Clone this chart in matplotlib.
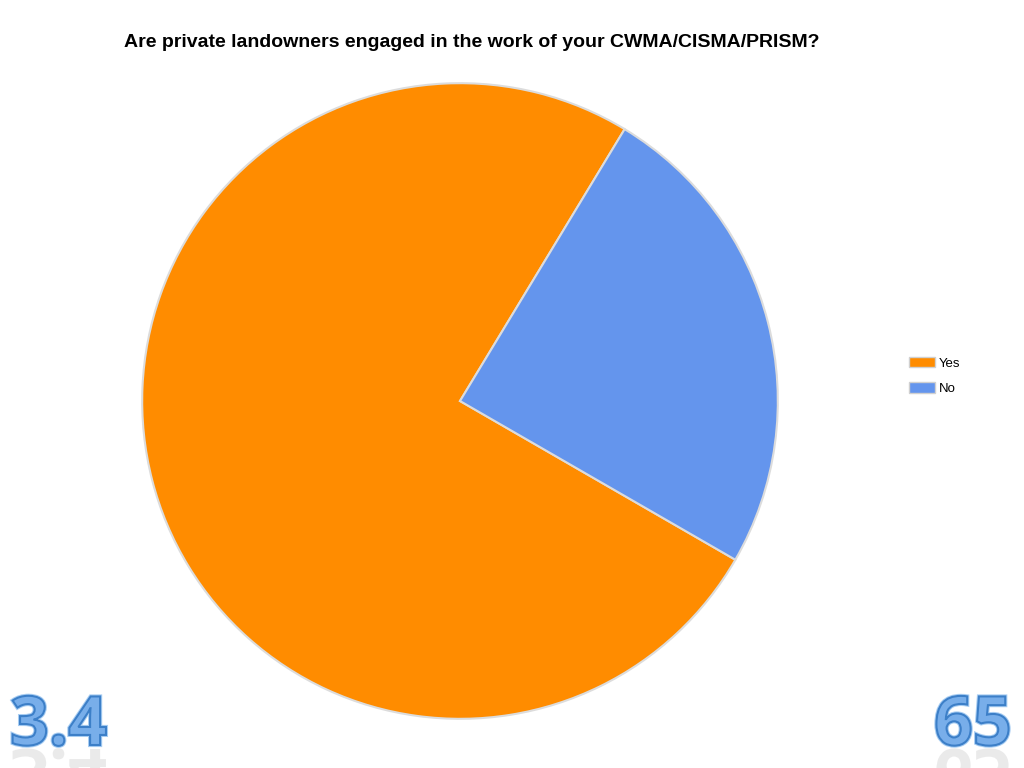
import matplotlib.pyplot as plt
from matplotlib.textpath import TextPath
from matplotlib.patches import PathPatch, Patch
from matplotlib.font_manager import FontProperties
from matplotlib.transforms import Affine2D
import matplotlib.patheffects as pe

# survey answers
labels = ["Yes", "No"]
counts = [55, 18]
colors = ["#FF8C00", "#6495ED"]
title = "Are private landowners engaged in the work of your CWMA/CISMA/PRISM?"
section_no = "3.4"
page_no = "65"

fig = plt.figure(figsize=(10.24, 7.68), dpi=100)
fig.patch.set_facecolor("white")

# pie area: square box in pixels
ax = fig.add_axes([139 / 1024, 46 / 768, 642 / 1024, 642 / 768])
wedges, _ = ax.pie(counts, colors=colors, startangle=58.8, counterclock=True,
                   radius=1.0,
                   wedgeprops=dict(edgecolor="#dcdcdc", linewidth=1.5))
ax.set_xlim(-1.01, 1.01)
ax.set_ylim(-1.01, 1.01)
ax.set_aspect("equal")
ax.axis("off")

fig.text(472 / 1024, 1 - 47 / 768, title, ha="center", va="baseline",
         fontsize=14, fontweight="bold", family="Liberation Sans")

handles = [Patch(facecolor=c, edgecolor="#d0d0d0") for c in colors]
fig.legend(handles, labels, loc="upper left",
           bbox_to_anchor=(897 / 1024, 1 - 345 / 768), frameon=False,
           prop=FontProperties(family="Liberation Sans", size=9.5),
           handlelength=2.0, handleheight=0.85, handletextpad=0.3,
           labelspacing=0.95)

# corner numbers with a faded reflection
fp = FontProperties(family="Open Sans", weight="bold")
def fancy_number(s, x0, base, size):
    tp = TextPath((0, 0), s, size=size, prop=fp)
    main = PathPatch(Affine2D().translate(x0, base).transform_path(tp),
                     facecolor="#78AEEA", edgecolor="#3C7FC8", lw=1.5,
                     transform=None)
    main.set_path_effects([pe.withStroke(linewidth=3, foreground="#A8CDF2")])
    fig.add_artist(main)
    refl = PathPatch(Affine2D().scale(1, -1).translate(x0, base - 4).transform_path(tp),
                     facecolor="#d2d2d2", edgecolor="none", alpha=0.45, transform=None)
    fig.add_artist(refl)

fancy_number(section_no, 10, 768 - 745, 68)
fancy_number(page_no, 934, 768 - 745, 68)

fig.savefig("out.png", dpi=100)
